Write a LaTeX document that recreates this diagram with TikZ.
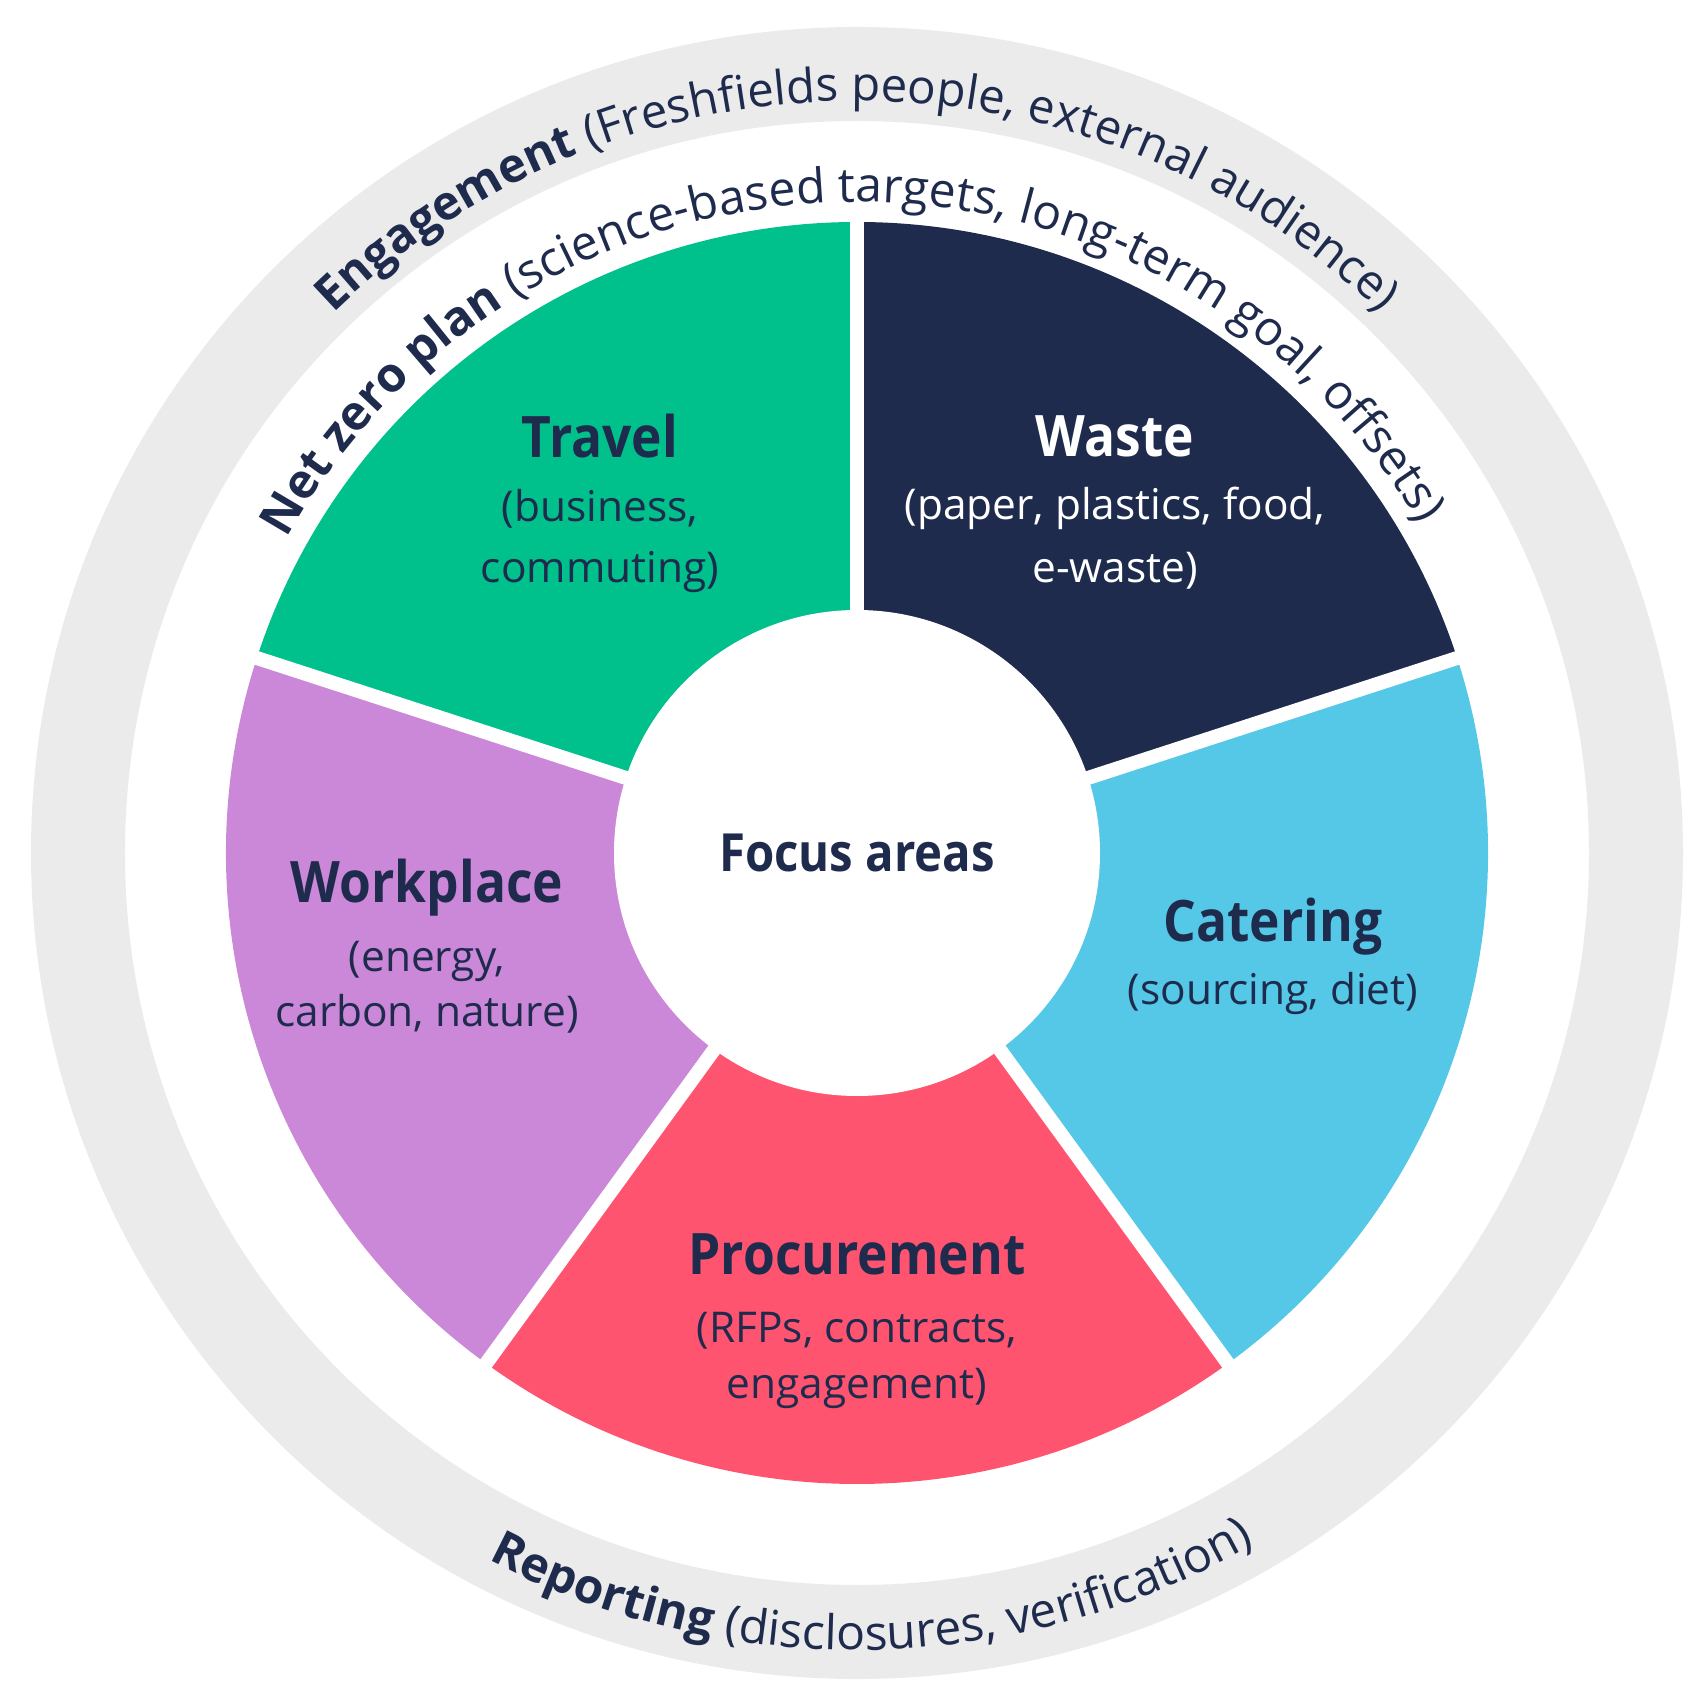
\documentclass[tikz,border=0pt]{standalone}
\usepackage{fontspec}
\setmainfont[FakeStretch=0.9]{Open Sans}
\newfontfamily\plainfont{Open Sans}
\usetikzlibrary{decorations.text}
\definecolor{navy}{HTML}{1E2B4D}
\definecolor{ringgray}{HTML}{EBEBEB}
\definecolor{segtravel}{HTML}{00C08B}
\definecolor{segcater}{HTML}{55C8E8}
\definecolor{segproc}{HTML}{FF5470}
\definecolor{segwork}{HTML}{CC88D8}
\newcommand\segtitlefont{\fontsize{28.6}{34}\selectfont\bfseries}
\newcommand\segsubfont{\plainfont\fontsize{21.2}{27}\selectfont}
\newcommand\arcbold{\plainfont\fontsize{24}{28}\selectfont\bfseries}
\newcommand\arcreg{\plainfont\fontsize{24}{28}\selectfont\mdseries}
\newcommand\engbold{\plainfont\fontsize{23.7}{28}\selectfont\bfseries}
\newcommand\engreg{\plainfont\fontsize{23.7}{28}\selectfont\mdseries}
\begin{document}
\begin{tikzpicture}[x=0.5pt,y=0.5pt,
  segtitle/.style={anchor=base, inner sep=0pt, text=navy, font=\segtitlefont},
  segsub/.style={anchor=base, inner sep=0pt, text=navy, font=\segsubfont},
  gapline/.style={draw=white, line width=7pt},
  arctext/.style={decorate, decoration={text along path, text align=center, text color=navy, text={#1}}}
]
\useasboundingbox (-857,-842) rectangle (849,853);
% outer grey ring
\fill[ringgray, even odd rule] (0,0) circle[radius=826] (0,0) circle[radius=732];
% segments
\fill[segtravel] (0,0) -- (90:631) arc[start angle=90, end angle=162, radius=631] -- cycle;
\fill[navy] (0,0) -- (18:631) arc[start angle=18, end angle=90, radius=631] -- cycle;
\fill[segcater] (0,0) -- (-54:631) arc[start angle=-54, end angle=18, radius=631] -- cycle;
\fill[segproc] (0,0) -- (-126:631) arc[start angle=-126, end angle=-54, radius=631] -- cycle;
\fill[segwork] (0,0) -- (162:631) arc[start angle=162, end angle=234, radius=631] -- cycle;
% gaps
\foreach \a in {90,18,-54,-126,162} \draw[gapline] (0,0) -- (\a:645);
% centre
\node[circle, fill=white, minimum size=243pt, inner sep=0pt, text=navy, font=\fontsize{26.3}{30}\selectfont\bfseries] (focus) at (0,0) {Focus areas};
% segment labels
\node[segtitle] (travelT) at (-257,395) {Travel};
\node[segsub] (travelA) at (-257,331) {(business,};
\node[segsub] (travelB) at (-257,270) {commuting)};
\node[segtitle, text=white] (wasteT) at (258,396) {Waste};
\node[segsub, text=white] (wasteA) at (258,333) {(paper, plastics, food,};
\node[segsub, text=white] (wasteB) at (258,270) {e-waste)};
\node[segtitle] (workT) at (-430,-50) {Workplace};
\node[segsub] (workA) at (-430,-119) {(energy,};
\node[segsub] (workB) at (-430,-174) {carbon, nature)};
\node[segtitle] (caterT) at (416,-89) {Catering};
\node[segsub] (caterA) at (416,-152) {(sourcing, diet)};
\node[segtitle] (procT) at (0,-421) {Procurement};
\node[segsub] (procA) at (0,-489) {(RFPs, contracts,};
\node[segsub] (procB) at (0,-545) {engagement)};
% curved texts
\path[arctext={|\engbold|Engagement |\engreg|(Freshfields people, external audience)}]
  (180:752) arc[start angle=180, end angle=0, radius=752];
\path[arctext={|\arcbold|Net zero plan |\arcreg|(science-based targets, long-term goal, offsets)}]
  (180.7:651) arc[start angle=180.7, end angle=0.7, radius=651];
\path[arctext={|\arcbold|Reporting |\arcreg|(disclosures, verification)}]
  (181.2:797) arc[start angle=181.2, end angle=361.2, radius=797];
\end{tikzpicture}
\end{document}
